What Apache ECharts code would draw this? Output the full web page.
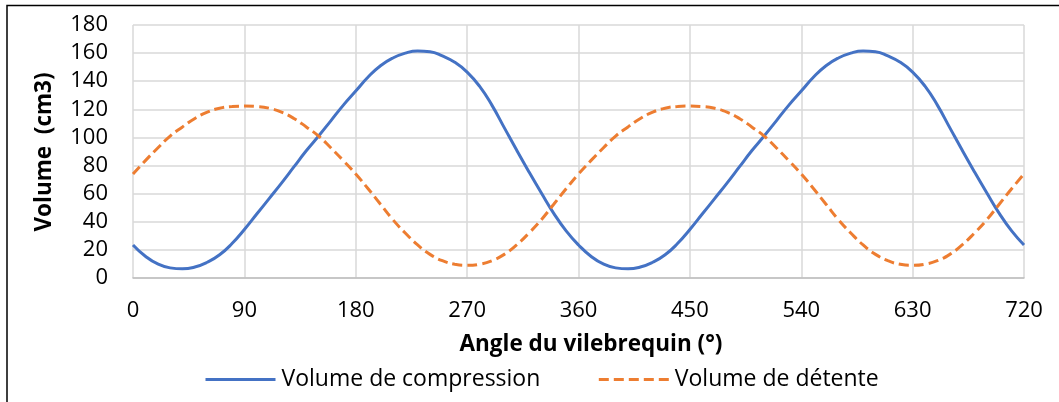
<!DOCTYPE html>
<html>
<head>
<meta charset="utf-8">
<script src="https://cdn.jsdelivr.net/npm/echarts@6/dist/echarts.min.js"></script>
<style>
html,body{margin:0;padding:0;background:#fff;}
#c{width:1059px;height:402px;}
</style>
</head>
<body>
<div id="c"></div>
<script>
const angles = [0,10,20,30,40,50,60,70,80,90,100,110,120,130,140,150,160,170,180,190,200,210,220,230,240,250,260,270,280,290,300,310,320,330,340,350,360,
370,380,390,400,410,420,430,440,450,460,470,480,490,500,510,520,530,540,550,560,570,580,590,600,610,620,630,640,650,660,670,680,690,700,710,720];
const compression = [23.5,15.5,10,7.2,6.5,7.8,11.2,16.5,24.5,34.5,45.5,56.5,67.5,79,90.5,101,112,123,133,143,151,156.5,160,161.5,161,158,153.5,146.5,136.5,123,107,91,75.5,60.5,46,33.5,23.5,
15.5,10,7.2,6.5,7.8,11.2,16.5,24.5,34.5,45.5,56.5,67.5,79,90.5,101,112,123,133,143,151,156.5,160,161.5,161,158,153.5,146.5,136.5,123,107,91,75.5,60.5,46,33.5,23.5];
const detente = [74,83.5,92.5,101,107.5,113.5,118,120.8,122,122.3,122,120.8,118,113.5,107.5,101,92.5,83.5,74,63.5,52.5,41.5,32,23.5,16.8,12.3,9.8,9,9.8,12.3,16.8,23.5,32,41.5,52.5,63.5,74,
83.5,92.5,101,107.5,113.5,118,120.8,122,122.3,122,120.8,118,113.5,107.5,101,92.5,83.5,74,63.5,52.5,41.5,32,23.5,16.8,12.3,9.8,9,9.8,12.3,16.8,23.5,32,41.5,52.5,63.5,74];
const seriesNames = ['Volume de compression','Volume de détente'];
const xTitle = 'Angle du vilebrequin (°)';
const yTitle = 'Volume  (cm3)';

const FONT = '"Open Sans"';
const chart = echarts.init(document.getElementById('c'));
chart.setOption({
  animation: false,
  backgroundColor: '#fff',
  grid: {left: 133, right: 35, top: 25, bottom: 124},
  xAxis: {
    type: 'value', min: 0, max: 720, interval: 90,
    axisLine: {show: true, lineStyle: {color: '#bfbfbf', width: 1.5}},
    axisTick: {show: false},
    axisLabel: {color: '#000', fontSize: 22, fontFamily: FONT, margin: 22},
    splitLine: {show: true, lineStyle: {color: '#d9d9d9', width: 1.5}}
  },
  yAxis: {
    type: 'value', min: 0, max: 180, interval: 20,
    axisLine: {show: false},
    axisTick: {show: false},
    axisLabel: {color: '#000', fontSize: 22, fontFamily: FONT, margin: 25},
    splitLine: {show: true, lineStyle: {color: '#d9d9d9', width: 1.5}}
  },
  legend: {
    left: 204, top: 368, padding: 0,
    itemWidth: 70, itemHeight: 24, itemGap: 57,
    itemStyle: {opacity: 0},
    lineStyle: {width: 3},
    textStyle: {color: '#000', fontSize: 23, fontFamily: FONT, padding: [0, 0, 0, 1]},
    data: seriesNames
  },
  graphic: [
    {type: 'rect', shape: {x: 7, y: 5.5, width: 2000, height: 2000}, style: {fill: 'none', stroke: '#000', lineWidth: 1.5}, silent: true},
    {type: 'text', x: 591, y: 345, style: {text: xTitle, fill: '#000', font: 'bold 22.5px ' + FONT, textAlign: 'center', textVerticalAlign: 'middle'}},
    {type: 'text', x: 45, y: 152, rotation: Math.PI / 2, style: {text: yTitle, fill: '#000', font: 'bold 22.5px ' + FONT, textAlign: 'center', textVerticalAlign: 'middle'}}
  ],
  series: [
    {
      name: seriesNames[0], type: 'line', smooth: true, symbol: 'none',
      data: angles.map((a, i) => [a, compression[i]]),
      lineStyle: {color: '#4472C4', width: 3},
      itemStyle: {color: '#4472C4'}
    },
    {
      name: seriesNames[1], type: 'line', smooth: true, symbol: 'none',
      data: angles.map((a, i) => [a, detente[i]]),
      lineStyle: {color: '#ED7D31', width: 3, type: [10, 5]},
      itemStyle: {color: '#ED7D31'}
    }
  ]
});
</script>
</body>
</html>
